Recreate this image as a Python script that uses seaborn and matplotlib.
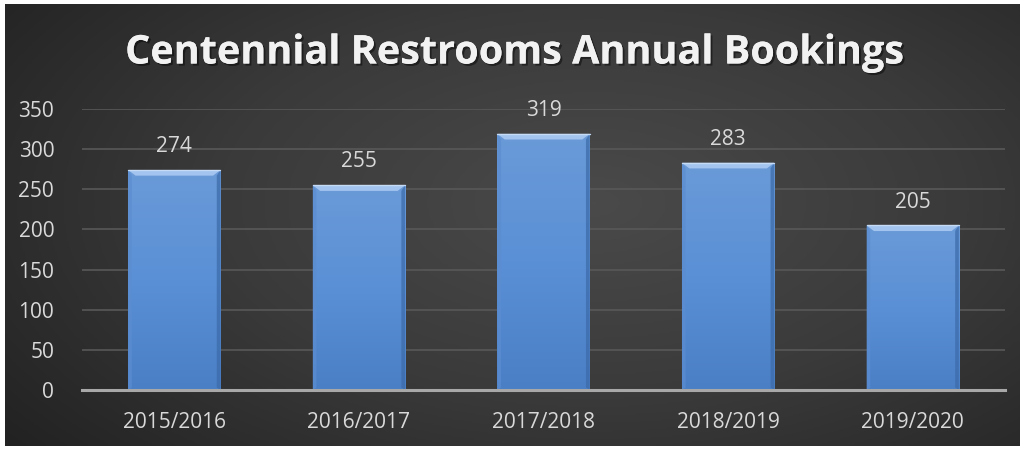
import numpy as np
import matplotlib
matplotlib.use("Agg")
import matplotlib.pyplot as plt
import matplotlib.patheffects as pe
from matplotlib.colors import LinearSegmentedColormap
import seaborn as sns
import pandas as pd

# Annual booking counts per season
seasons = ["2015/2016", "2016/2017", "2017/2018", "2018/2019", "2019/2020"]
bookings = [274, 255, 319, 283, 205]
y_ticks = [0, 50, 100, 150, 200, 250, 300, 350]
title = "Centennial Restrooms Annual Bookings"

df = pd.DataFrame({"season": seasons, "bookings": bookings})

sns.set_theme(style="dark")
plt.rcParams["font.family"] = ["Open Sans", "DejaVu Sans"]

W, H = 1025, 450
fig = plt.figure(figsize=(W / 100, H / 100), dpi=100, facecolor="white")

# Dark radial-gradient backdrop inside a thin white frame
bg = fig.add_axes([5 / W, 4 / H, 1 - 10 / W, 1 - 8 / H])
bg.set_axis_off()
yy, xx = np.mgrid[0:1:300j, 0:1:600j]
r = np.sqrt(((xx - 0.58) / 0.75) ** 2 + ((yy - 0.45) / 0.9) ** 2)
r = np.clip(r, 0, 1)
bg_cmap = LinearSegmentedColormap.from_list("bgc", ["#4a4a4a", "#3a3a3a", "#222222"])
bg.imshow(r, cmap=bg_cmap, aspect="auto", extent=[0, 1, 0, 1], interpolation="bilinear")
bg.set_xlim(0, 1)
bg.set_ylim(0, 1)

ax = fig.add_axes([82 / W, 1 - 390 / H, (1005 - 82) / W, (390 - 109) / H])
ax.patch.set_alpha(0)

sns.barplot(data=df, x="season", y="bookings", ax=ax, width=0.5,
            color="#4f86cc", saturation=1, edgecolor="none", zorder=3)

ax.set_ylim(0, 350)
ax.set_xlim(-0.5, len(seasons) - 0.5)
ax.set_yticks(y_ticks)
ax.set_xlabel("")
ax.set_ylabel("")
ax.grid(axis="y", color="#585858", linewidth=1.2, zorder=0)
ax.grid(axis="x", visible=False)
for s in ["top", "right", "left"]:
    ax.spines[s].set_visible(False)
ax.spines["bottom"].set_color("#a8a8a8")
ax.spines["bottom"].set_linewidth(2.2)
ax.spines["bottom"].set_zorder(5)
ax.tick_params(axis="y", length=0, pad=20, labelsize=15, labelcolor="#d9d9d9")
ax.tick_params(axis="x", length=0, pad=16, labelsize=15, labelcolor="#d9d9d9")

# Vertical gradient fill and bevel highlights on each bar
bar_cmap = LinearSegmentedColormap.from_list("barc", ["#4a7fc6", "#5a90d6", "#6a9ad8"])
grad = np.linspace(0, 1, 256).reshape(-1, 1)
for patch, val in zip(ax.patches, bookings):
    x0 = patch.get_x()
    w = patch.get_width()
    h = patch.get_height()
    im = ax.imshow(grad, cmap=bar_cmap, aspect="auto", origin="lower",
                   extent=[x0, x0 + w, 0, h], zorder=4, interpolation="bilinear")
    im.set_clip_path(patch)
    # top bevel
    ax.fill([x0, x0 + w, x0 + w * 0.92, x0 + w * 0.08],
            [h, h, h - 7, h - 7], color="#a3c4ee", zorder=5, lw=0)
    # side shading
    ax.fill([x0 + w, x0 + w, x0 + w * 0.96, x0 + w * 0.96],
            [h, 0, 3, h - 7], color="#3c6aa8", alpha=0.7, zorder=5, lw=0)
    ax.fill([x0, x0, x0 + w * 0.04, x0 + w * 0.04],
            [h, 0, 3, h - 7], color="#5b8dd0", alpha=0.7, zorder=5, lw=0)
    ax.plot([x0, x0 + w], [h, h], color="#c6dbf5", lw=1, zorder=6)
    ax.text(x0 + w / 2, h + 29, f"{val}", ha="center", va="center",
            fontsize=15, color="#d9d9d9", zorder=6)
ax.set_xlim(-0.5, len(seasons) - 0.5)

fig.text(515 / W, 1 - 53 / H, title, ha="center", va="center",
         fontsize=28.5, fontweight="bold", color="#f2f2f2",
         path_effects=[pe.withSimplePatchShadow(offset=(1.5, -1.5),
                                                shadow_rgbFace="#000000", alpha=0.45),
                       pe.Normal()])

fig.savefig("out.png", dpi=100, facecolor="white")
